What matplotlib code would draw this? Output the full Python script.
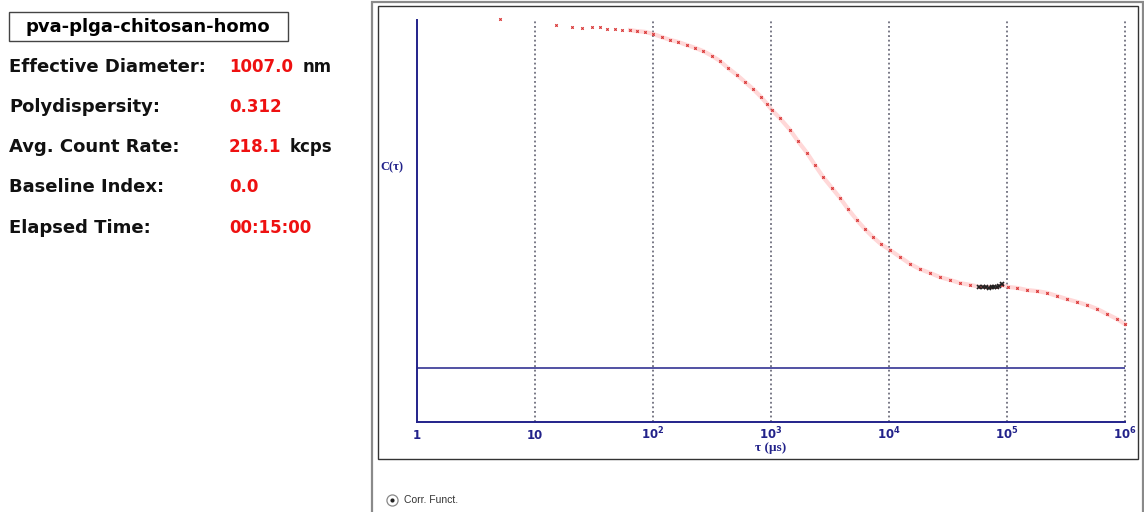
import matplotlib
matplotlib.use("Agg")
import matplotlib.pyplot as plt
from matplotlib.patches import Rectangle
from matplotlib.lines import Line2D
from matplotlib.transforms import blended_transform_factory

# ---------------- data ----------------
sample_name = "pva-plga-chitosan-homo"
info_labels = ["Effective Diameter:", "Polydispersity:", "Avg. Count Rate:",
               "Baseline Index:", "Elapsed Time:"]
info_values = ["1007.0", "0.312", "218.1", "0.0", "00:15:00"]
info_units = ["nm", "", "kcps", "", ""]

tau_us = [5.05, 15.1, 20.6, 25.0, 30.4, 35.6, 40.8, 47.6, 54.6, 63.8, 73.2, 85.5,
          100, 119, 139, 163, 194, 227, 265, 316, 370, 432, 515, 602, 704, 823,
          925, 1020, 1190, 1450, 1690, 2020, 2360, 2760, 3290, 3840, 4490, 5350,
          6260, 7320, 8550, 10200, 12400, 15100, 18300, 22300, 27100, 32900,
          40000, 48600, 59000, 65100, 71800, 82300, 90700, 102000, 122000,
          148000, 180000, 218000, 265000, 322000, 392000, 476000, 579000,
          704000, 855000, 1000000]
corr = [2.003, 1.986, 1.980, 1.977, 1.980, 1.980, 1.974, 1.974, 1.971, 1.971,
        1.968, 1.966, 1.960, 1.951, 1.943, 1.937, 1.928, 1.920, 1.911, 1.897,
        1.882, 1.862, 1.842, 1.822, 1.802, 1.779, 1.759, 1.741, 1.718, 1.684,
        1.652, 1.618, 1.583, 1.549, 1.517, 1.489, 1.457, 1.425, 1.399, 1.376,
        1.356, 1.339, 1.319, 1.299, 1.284, 1.273, 1.261, 1.253, 1.244, 1.239,
        1.233, 1.233, 1.233, 1.233, 1.239, 1.233, 1.230, 1.224, 1.221, 1.216,
        1.207, 1.198, 1.190, 1.181, 1.170, 1.155, 1.141, 1.126]

# highlighted (black) points of the measured data
hi_tau = [58000, 62000, 66000, 70000, 74000, 78000, 82000, 86000, 90000]
hi_corr = [1.233, 1.232, 1.233, 1.231, 1.232, 1.233, 1.234, 1.237, 1.240]

baseline = 1.0
decades = [1, 10, 100, 1000, 10000, 100000, 1000000]
decade_labels = ["1", "10", "10$^2$", "10$^3$", "10$^4$", "10$^5$", "10$^6$"]

# ---------------- style ----------------
plt.rcParams["font.family"] = ["DejaVu Sans"]
plt.rcParams["mathtext.fontset"] = "custom"
plt.rcParams["mathtext.rm"] = "DejaVu Sans:bold"
plt.rcParams["mathtext.bf"] = "DejaVu Sans:bold"
plt.rcParams["mathtext.default"] = "bf"

W, H = 1144, 512
fig = plt.figure(figsize=(W / 100, H / 100), dpi=100)
fig.patch.set_facecolor("white")


def fx(x):
    return x / W


def fy(y):
    return 1 - y / H


NAVY = "#22228a"
RED = "#ee1111"
LAB_FS = 13
VAL_FS = 12

# frames
fig.patches.append(Rectangle((fx(372), fy(520)), fx(1143) - fx(372), fy(2) - fy(520),
                             transform=fig.transFigure, fill=False, ec="#8a8a8a", lw=1.6))
fig.patches.append(Rectangle((fx(378), fy(459)), fx(1138) - fx(378), fy(6) - fy(459),
                             transform=fig.transFigure, fill=False, ec="#333333", lw=1.0))

# left info panel
fig.patches.append(Rectangle((fx(9), fy(41)), fx(288) - fx(9), fy(12) - fy(41),
                             transform=fig.transFigure, fill=False, ec="#444444", lw=1.0))
fig.text(fx(148), fy(27), sample_name, ha="center", va="center", fontsize=LAB_FS,
         fontweight="bold", color="black")
rows_y = [67, 107, 147, 187, 228]
for lab, val, unit, y in zip(info_labels, info_values, info_units, rows_y):
    fig.text(fx(9), fy(y), lab, ha="left", va="center", fontsize=LAB_FS,
             fontweight="bold", color="#111111")
    fig.text(fx(229), fy(y), val, ha="left", va="center", fontsize=VAL_FS,
             fontweight="bold", color=RED)
    if unit:
        ux = {"nm": 303, "kcps": 290}[unit]
        fig.text(fx(ux), fy(y), unit, ha="left", va="center", fontsize=VAL_FS,
                 fontweight="bold", color="#111111")

# radio button
fig.add_artist(Line2D([fx(392)], [fy(500)], transform=fig.transFigure, marker="o",
                      ms=8, mfc="white", mec="#888888", mew=0.9, ls="none"))
fig.add_artist(Line2D([fx(392)], [fy(500)], transform=fig.transFigure, marker="o",
                      ms=3, mfc="#222222", mec="none", ls="none"))
fig.text(fx(404), fy(500), "Corr. Funct.", ha="left", va="center", fontsize=7.5,
         family=["Liberation Sans", "DejaVu Sans"], color="#333333")

# ---------------- main axes ----------------
ax_left, ax_right, ax_top, ax_bot = 417, 1125, 20, 422
ax = fig.add_axes([fx(ax_left), fy(ax_bot), (ax_right - ax_left) / W, (ax_bot - ax_top) / H])
ax.set_xscale("log")
ax.set_xlim(1, 1e6)
y_bot = baseline - (422 - 368) / 348
y_top = baseline + (368 - 20) / 348
ax.set_ylim(y_bot, y_top)
ax.patch.set_alpha(0)
for s in ["top", "right"]:
    ax.spines[s].set_visible(False)
for s in ["left", "bottom"]:
    ax.spines[s].set_color(NAVY)
    ax.spines[s].set_linewidth(1.4)
ax.set_xticks([])
ax.set_yticks([])
ax.minorticks_off()

for d in decades[1:]:
    ax.axvline(d, color="#555566", lw=1.1, ls=(0, (1.2, 1.8)), zorder=1, clip_on=False)
ax.axhline(baseline, color=NAVY, lw=1.1, zorder=1)

halo_tau = [t for t in tau_us if t >= 60]
halo_c = [c for t, c in zip(tau_us, corr) if t >= 60]
ax.plot(halo_tau, halo_c, color="#ffb8b8", lw=3, alpha=0.55, zorder=2, clip_on=False)
ax.plot(tau_us, corr, ls="none", marker="x", ms=1.8, mew=0.8, color="#d83030",
        zorder=3, clip_on=False)
ax.plot(hi_tau, hi_corr, ls="none", marker="x", ms=2.5, mew=1.2, color="#222222",
        zorder=4)

tr = blended_transform_factory(ax.transData, ax.transAxes)
lab_y = (ax_bot - 439) / (ax_bot - ax_top)
for d, lab in zip(decades, decade_labels):
    ax.text(d, lab_y, lab, transform=tr, ha="center", va="baseline", fontsize=8.5,
            fontweight="bold", color=NAVY)

fig.text(fx(771), fy(448), "τ (µs)", ha="center", va="center", fontsize=9.5,
         fontweight="bold", family=["Liberation Serif", "DejaVu Serif"], color=NAVY)
fig.text(fx(392), fy(167), "C(τ)", ha="center", va="center", fontsize=9,
         fontweight="bold", family=["Liberation Serif", "DejaVu Serif"], color=NAVY)

fig.savefig("out.png", dpi=100)
